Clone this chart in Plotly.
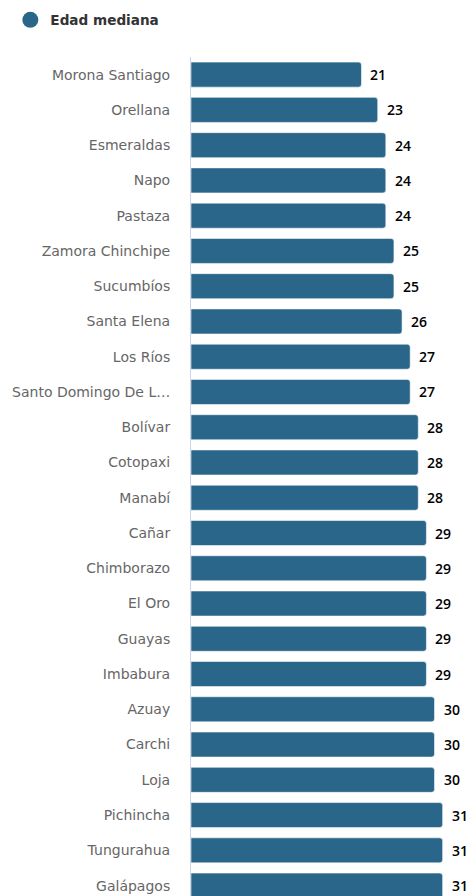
import plotly.graph_objects as go

categories = ["Morona Santiago", "Orellana", "Esmeraldas", "Napo", "Pastaza",
              "Zamora Chinchipe", "Sucumbíos", "Santa Elena", "Los Ríos",
              "Santo Domingo De L…", "Bolívar", "Cotopaxi", "Manabí", "Cañar",
              "Chimborazo", "El Oro", "Guayas", "Imbabura", "Azuay", "Carchi",
              "Loja", "Pichincha", "Tungurahua", "Galápagos"]
values = [21, 23, 24, 24, 24, 25, 25, 26, 27, 27, 28, 28, 28, 29, 29, 29, 29, 29,
          30, 30, 30, 31, 31, 31]
series_name = "Edad mediana"

color = "#2a6689"
label_font = "DejaVu Sans, Verdana, sans-serif"
value_font = "Open Sans, Noto Sans, sans-serif"

fig = go.Figure()
fig.add_trace(go.Bar(
    x=values, y=categories, orientation="h",
    marker=dict(color=color, line=dict(color="rgba(255,255,255,0.55)", width=1)),
    showlegend=False, hoverinfo="x+y",
))
fig.add_trace(go.Scatter(
    x=[None], y=[None], mode="markers", name=series_name,
    marker=dict(color=color, size=16, symbol="circle"),
))

for c, v in zip(categories, values):
    fig.add_annotation(x=v, y=c, text=str(v), showarrow=False, xanchor="left",
                       xshift=7, font=dict(size=14, color="#000000", family=value_font,
                                           weight=600))

plot_top = 57
height = 896
band = 35.26
plot_h = height - plot_top
y_bottom = plot_h / band - 0.5

fig.update_layout(
    width=470, height=height,
    margin=dict(l=191, r=3, t=plot_top, b=0),
    paper_bgcolor="white", plot_bgcolor="white",
    barmode="overlay", bargap=0.29, barcornerradius=3,
    font=dict(family=label_font, color="#666666", size=14),
    legend=dict(orientation="h", xref="container", yref="container",
                x=0.022, y=0.995, xanchor="left", yanchor="top",
                font=dict(size=13.6, color="#333333", family=label_font, weight=700),
                itemclick=False, itemdoubleclick=False),
    xaxis=dict(range=[0, 34], showgrid=False, zeroline=False, showticklabels=False,
               showline=False, fixedrange=True),
    yaxis=dict(type="category", categoryorder="array", categoryarray=categories,
               range=[y_bottom, -0.5], showgrid=False, zeroline=False,
               showline=True, linecolor="#ccd6eb", linewidth=1,
               ticks="outside", ticklen=17, tickcolor="rgba(0,0,0,0)",
               tickfont=dict(size=14, color="#666666", family=label_font),
               fixedrange=True),
)

fig.write_html("out.html", config={"displayModeBar": False},
               post_script="document.body.style.margin='0';document.body.style.overflow='hidden';")
